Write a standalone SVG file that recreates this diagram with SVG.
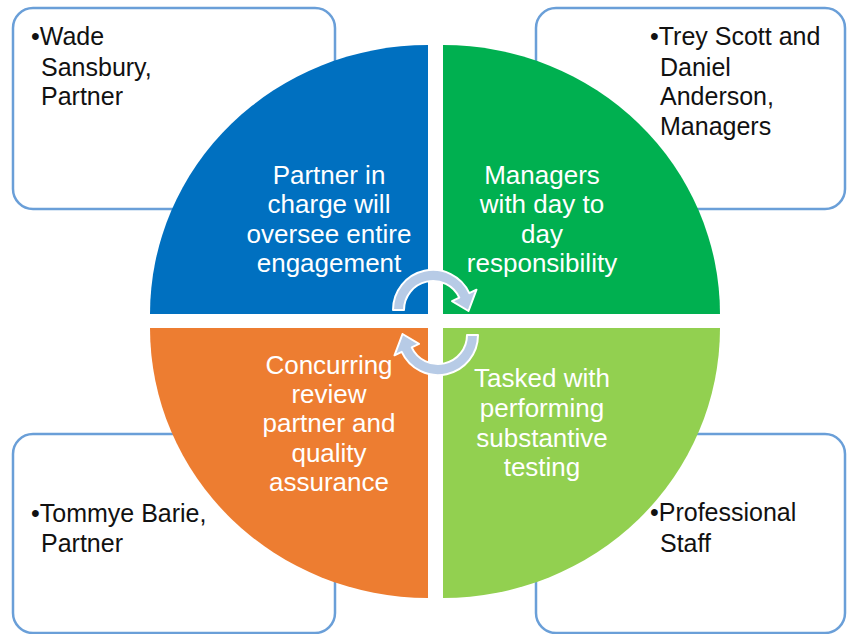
<svg xmlns="http://www.w3.org/2000/svg" width="847" height="634" viewBox="0 0 847 634">
<style>
.box{fill:#fff;stroke:#6a9fd8;stroke-width:2.5}
.bt{font-family:"Liberation Sans",Arial,sans-serif;font-size:25px;fill:#111}
.qt{font-family:"Liberation Sans",Arial,sans-serif;font-size:26px;fill:#fff;text-anchor:middle}
.arr{fill:#b7cbe6;stroke:#fff;stroke-width:2;stroke-linejoin:round}
</style>
<defs>
<path id="carrow" d="M393,310 A40,40 0 0 1 469.3,293.1 L476.5,289.7 L468.5,311 L452,301.1 L459.3,297.7 A29,29 0 0 0 404,310 Z"/>
</defs>
<rect width="847" height="634" fill="#fff"/>
<g id="box-tl"><rect class="box" x="13" y="8" width="322" height="201" rx="20"/></g>
<g id="box-tr"><rect class="box" x="536" y="8" width="309" height="201" rx="20"/></g>
<g id="box-bl"><rect class="box" x="13" y="434" width="322" height="199" rx="20"/></g>
<g id="box-br"><rect class="box" x="536" y="434" width="309" height="199" rx="20"/></g>
<g id="q-tl">
<path d="M428,314 L150,314 A278,269 0 0 1 428,45 Z" fill="#0070c0"/>
<text class="qt" x="329" y="184">Partner in</text>
<text class="qt" x="329" y="213">charge will</text>
<text class="qt" x="329" y="243">oversee entire</text>
<text class="qt" x="329" y="272">engagement</text>
</g>
<g id="q-tr">
<path d="M443,314 L443,45 A277,269 0 0 1 720,314 Z" fill="#00b050"/>
<text class="qt" x="542" y="184">Managers</text>
<text class="qt" x="542" y="213">with day to</text>
<text class="qt" x="542" y="243">day</text>
<text class="qt" x="542" y="272">responsibility</text>
</g>
<g id="q-bl">
<path d="M428,328 L428,598 A278,270 0 0 1 150,328 Z" fill="#ed7d31"/>
<text class="qt" x="329" y="374">Concurring</text>
<text class="qt" x="329" y="403">review</text>
<text class="qt" x="329" y="432">partner and</text>
<text class="qt" x="329" y="462">quality</text>
<text class="qt" x="329" y="491">assurance</text>
</g>
<g id="q-br">
<path d="M443,328 L720,328 A277,270 0 0 1 443,598 Z" fill="#92d050"/>
<text class="qt" x="542" y="387">Tasked with</text>
<text class="qt" x="542" y="417">performing</text>
<text class="qt" x="542" y="447">substantive</text>
<text class="qt" x="542" y="476">testing</text>
</g>
<g id="connectors">
<use href="#carrow" class="arr"/>
<use href="#carrow" class="arr" transform="rotate(180 435.5 322.5)"/>
</g>
<g id="txt-tl">
<text class="bt" x="31" y="45">•Wade</text>
<text class="bt" x="41" y="76">Sansbury,</text>
<text class="bt" x="41" y="105">Partner</text>
</g>
<g id="txt-tr">
<text class="bt" x="650" y="45">•Trey Scott and</text>
<text class="bt" x="660" y="76">Daniel</text>
<text class="bt" x="660" y="105">Anderson,</text>
<text class="bt" x="660" y="135">Managers</text>
</g>
<g id="txt-bl">
<text class="bt" x="31" y="522">•Tommye Barie,</text>
<text class="bt" x="41" y="552">Partner</text>
</g>
<g id="txt-br">
<text class="bt" x="650" y="521">•Professional</text>
<text class="bt" x="660" y="552">Staff</text>
</g>
</svg>
